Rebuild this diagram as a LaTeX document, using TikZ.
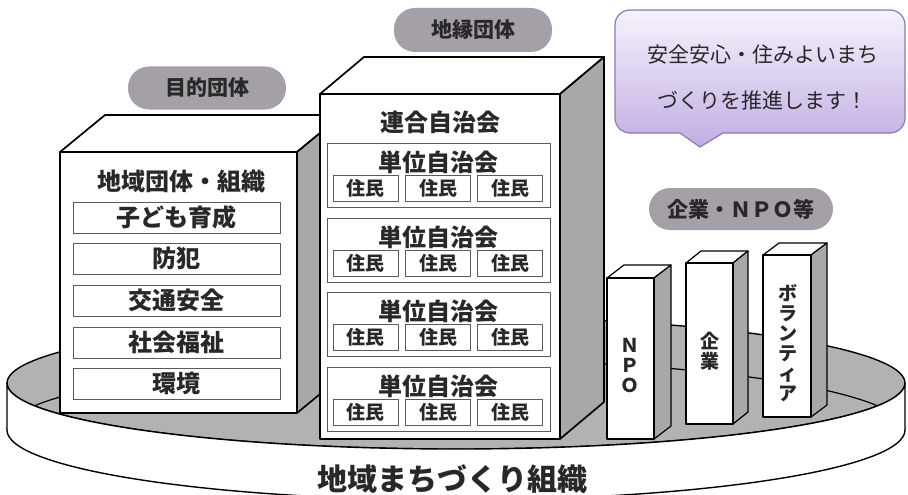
\documentclass[tikz,border=0pt]{standalone}
\usepackage{fontspec}
\setmainfont{Noto Sans CJK JP}
\definecolor{sidegray}{RGB}{168,168,168}
\definecolor{diskgray}{RGB}{178,178,178}
\definecolor{pillgray}{RGB}{165,159,167}
\definecolor{inkgray}{RGB}{40,40,40}
\definecolor{linegray}{RGB}{90,90,90}
\definecolor{calltop}{RGB}{246,242,252}
\definecolor{callbot}{RGB}{192,174,226}
\definecolor{callline}{RGB}{140,122,184}
\begin{document}
\begin{tikzpicture}[x=1pt,y=-1pt,
  solid3d/.style={draw=black,line width=1.7pt,line join=round,fill=white},
  side3d/.style={draw=black,line width=1.7pt,line join=round,fill=sidegray},
  thin3d/.style={draw=black,line width=1.2pt,line join=round,fill=white},
  thinside/.style={draw=black,line width=1.2pt,line join=round,fill=sidegray},
  pill/.style={fill=pillgray,rounded corners=21pt,inner sep=0pt,text=inkgray,font=\fontsize{21}{21}\selectfont\bfseries},
  head/.style={text=inkgray,inner sep=0pt,font=\fontsize{24}{24}\selectfont\bfseries},
  itembox/.style={draw=linegray,line width=1pt,fill=white,minimum width=207pt,minimum height=31pt,inner sep=0pt,text=inkgray,font=\fontsize{24}{24}\selectfont\bfseries},
  unitbox/.style={draw=linegray,line width=1pt,fill=white,minimum width=223pt,minimum height=64pt,inner sep=0pt},
  juminbox/.style={draw=linegray,line width=1pt,fill=white,minimum width=65pt,minimum height=26pt,inner sep=0pt,text=inkgray,font=\fontsize{19}{19}\selectfont\bfseries},
  vtext/.style={align=center,inner sep=0pt,text=inkgray,font=\fontsize{19}{20}\selectfont\bfseries},
  calltext/.style={inner sep=0pt,text=inkgray,font=\fontsize{21}{21}\selectfont},
  disk/.style={draw=black,line width=1.4pt}
]
\useasboundingbox (0,0) rectangle (908,495);
\fill[white] (0,0) rectangle (908,495);

% ---- base disk ----
\filldraw[disk,fill=diskgray] (456,383) ellipse [x radius=449, y radius=66];
\draw[disk,line width=1.2pt] (7,430) arc[start angle=180,end angle=360,x radius=449,y radius=70];
\filldraw[disk,fill=white] (7,383) arc[start angle=180,end angle=0,x radius=449,y radius=66]
  -- (905,430) arc[start angle=0,end angle=180,x radius=449,y radius=70] -- cycle;
\node[inner sep=0pt,text=inkgray,font=\fontsize{30}{30}\selectfont\bfseries] (base) at (452,479) {地域まちづくり組織};

% ---- left box (目的団体) ----
\filldraw[solid3d] (60,152) -- (105,115) -- (342,115) -- (297,152) -- cycle;
\filldraw[side3d] (297,152) -- (342,115) -- (342,376) -- (297,413) -- cycle;
\filldraw[solid3d] (60,152) rectangle (297,413);
\node[head] (leftttl) at (181,181) {地域団体・組織};
\node[itembox] (i1) at (176.5,217.5) {子ども育成};
\node[itembox] (i2) at (176.5,258.5) {防犯};
\node[itembox] (i3) at (176.5,300.5) {交通安全};
\node[itembox] (i4) at (176.5,342.5) {社会福祉};
\node[itembox] (i5) at (176.5,383.5) {環境};

% ---- middle box (地縁団体) ----
\filldraw[solid3d] (320,94) -- (364,57) -- (604,57) -- (560,94) -- cycle;
\filldraw[side3d] (560,94) -- (604,57) -- (604,402) -- (560,439) -- cycle;
\filldraw[solid3d] (320,94) rectangle (560,439);
\node[head] (rengo) at (440,122) {連合自治会};
\foreach \i/\t in {1/143,2/218,3/292,4/367}{
  \node[unitbox] (unit\i) at (438.5,\t+32) {};
  \node[head] (unitttl\i) at (438,\t+19) {単位自治会};
  \node[juminbox] (j\i a) at (365.5,\t+45) {住民};
  \node[juminbox] (j\i b) at (438,\t+45) {住民};
  \node[juminbox] (j\i c) at (510,\t+45) {住民};
}

% ---- pillars (企業・NPO等) ----
\filldraw[thin3d] (607,278) -- (624,265) -- (671,265) -- (654,278) -- cycle;
\filldraw[thinside] (654,278) -- (671,265) -- (671,426) -- (654,439) -- cycle;
\filldraw[thin3d] (607,278) rectangle (654,439);
\node[vtext] (npo) at (630,366) {Ｎ\\Ｐ\\Ｏ};

\filldraw[thin3d] (686,263) -- (701,251) -- (748,251) -- (733,263) -- cycle;
\filldraw[thinside] (733,263) -- (748,251) -- (748,412) -- (733,424) -- cycle;
\filldraw[thin3d] (686,263) rectangle (733,424);
\node[vtext] (kigyo) at (710,351) {企\\業};

\filldraw[thin3d] (763,255) -- (779,243) -- (827,243) -- (811,255) -- cycle;
\filldraw[thinside] (811,255) -- (827,243) -- (827,405) -- (811,417) -- cycle;
\filldraw[thin3d] (763,255) rectangle (811,417);
\node[vtext] (volun) at (788,343) {ボ\\ラ\\ン\\テ\\ィ\\ア};

% ---- labels ----
\node[pill,minimum width=158pt,minimum height=43pt] (mokuteki) at (207,88) {目的団体};
\node[pill,minimum width=158pt,minimum height=44pt] (chien) at (473,30) {地縁団体};
\node[pill,minimum width=184pt,minimum height=42pt] (kigyonpo) at (741,209) {企業・ＮＰＯ等};

% ---- callout ----
\path[draw=callline,line width=1.2pt,top color=calltop,bottom color=callbot,line join=round]
  (615,25) .. controls (615,16.7) and (621.7,10) .. (630,10)
  -- (890,10) .. controls (898.3,10) and (905,16.7) .. (905,25)
  -- (905,118) .. controls (905,126.3) and (898.3,133) .. (890,133)
  -- (723,133) -- (700,147) -- (680,133)
  -- (630,133) .. controls (621.7,133) and (615,126.3) .. (615,118) -- cycle;
\node[calltext] (msg1) at (763,55) {安全安心・住みよいまち};
\node[calltext] (msg2) at (762,100) {づくりを推進します！};
\end{tikzpicture}
\end{document}
